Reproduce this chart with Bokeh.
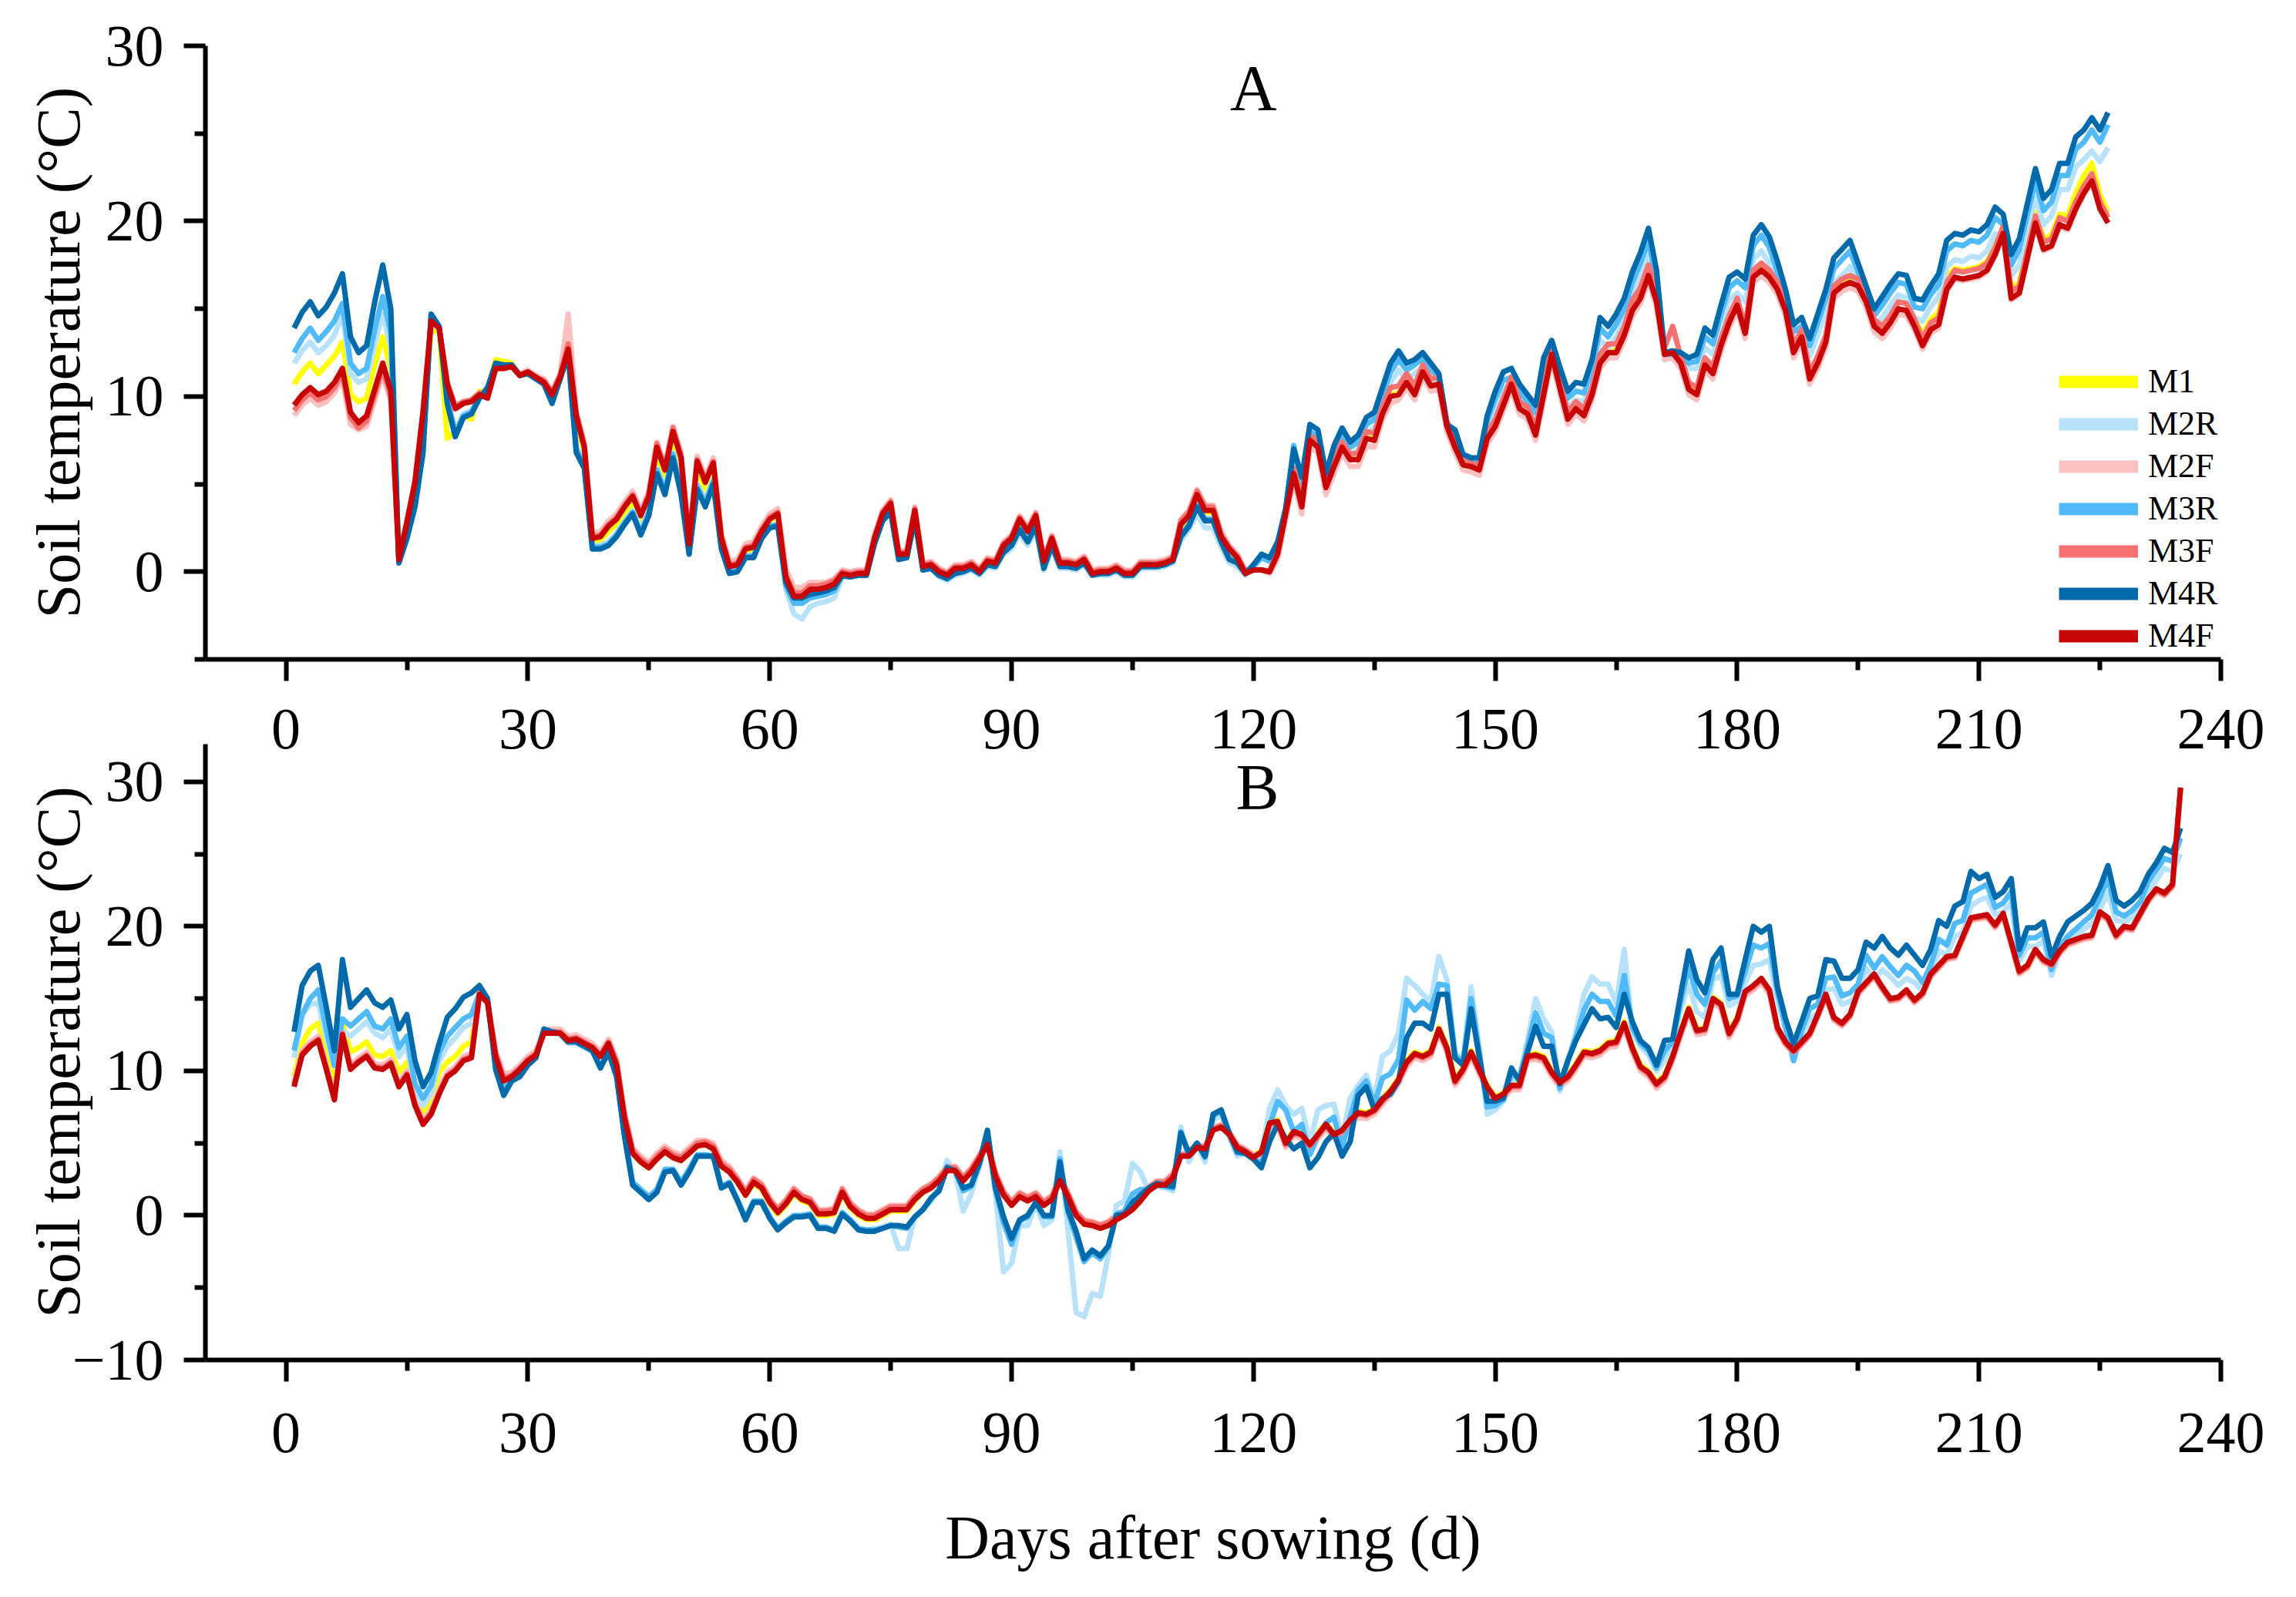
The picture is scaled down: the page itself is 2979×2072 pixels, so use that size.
from bokeh.plotting import figure
from bokeh.models import FixedTicker, Legend, LegendItem, Label
from bokeh.layouts import column
from bokeh.embed import file_html
from bokeh.resources import INLINE

# Panel A: soil temperature, days 1-226
a_m1 = [10.7, 11.4, 11.9, 11.3, 11.8, 12.3, 13.1, 10.1, 9.7, 9.9,
        11.8, 13.4, 11.5, 0.6, 2.4, 4.5, 8.2, 13.8, 13.7, 7.6,
        8.0, 8.9, 8.7, 10.3, 10.3, 12.1, 12.0, 11.9, 11.2, 11.4,
        11.1, 10.8, 10.0, 11.0, 12.6, 8.5, 6.9, 1.7, 1.8, 2.3,
        2.7, 3.4, 3.9, 2.8, 3.9, 6.7, 5.4, 7.6, 6.1, 1.4,
        5.9, 4.7, 5.9, 1.7, 0.2, 0.3, 1.2, 1.3, 2.2, 2.9,
        3.2, -0.4, -1.5, -1.5, -1.1, -1.1, -1.0, -0.8, -0.1, -0.2,
        -0.1, -0.1, 1.8, 3.2, 3.8, 1.0, 1.0, 3.4, 0.3, 0.4,
        0.0, -0.2, 0.2, 0.2, 0.4, 0.0, 0.6, 0.5, 1.4, 1.8,
        2.9, 2.2, 3.1, 0.6, 1.8, 0.5, 0.5, 0.4, 0.7, -0.1,
        0.0, 0.0, 0.2, -0.1, -0.1, 0.4, 0.4, 0.4, 0.5, 0.7,
        2.6, 3.1, 4.2, 3.4, 3.4, 1.9, 1.2, 0.8, -0.1, 0.1,
        0.1, 0.0, 1.0, 3.3, 5.7, 3.8, 7.6, 7.2, 4.9, 6.1,
        7.2, 6.5, 6.5, 7.7, 7.6, 9.1, 10.1, 10.2, 10.9, 10.2,
        11.5, 10.7, 10.8, 8.4, 7.2, 6.0, 5.9, 5.6, 7.6, 8.4,
        9.6, 10.8, 9.4, 9.1, 7.9, 10.2, 12.5, 10.6, 8.8, 9.4,
        9.0, 10.2, 12.0, 12.6, 12.6, 13.6, 15.0, 15.7, 17.0, 15.5,
        12.5, 12.6, 12.0, 10.5, 10.2, 11.9, 11.4, 13.0, 14.3, 15.3,
        13.8, 17.0, 17.4, 17.0, 16.3, 15.1, 12.7, 13.6, 11.3, 12.2,
        13.4, 16.2, 16.6, 16.8, 16.6, 15.7, 14.3, 14.0, 14.6, 15.4,
        15.3, 14.5, 13.5, 14.4, 14.8, 16.8, 17.3, 17.2, 17.3, 17.4,
        17.7, 18.6, 19.7, 16.2, 16.5, 18.5, 20.5, 19.0, 19.2, 20.4,
        20.3, 21.6, 22.6, 23.3, 21.5, 20.5]
a_m2r = [11.9, 12.6, 13.1, 12.5, 12.9, 13.5, 14.7, 11.3, 10.8, 11.0,
         13.0, 14.7, 12.8, 0.6, 2.2, 4.0, 7.5, 14.5, 13.8, 9.9,
         8.1, 9.0, 9.2, 10.0, 10.5, 11.8, 11.8, 11.8, 11.2, 11.3,
         11.0, 10.7, 9.8, 11.0, 12.5, 7.2, 6.1, 1.5, 1.5, 1.7,
         2.2, 2.9, 3.5, 2.4, 3.6, 5.9, 4.7, 6.8, 4.8, 1.2,
         5.0, 4.1, 5.3, 1.5, 0.0, 0.1, 0.9, 0.9, 2.0, 2.6,
         2.7, -1.0, -2.4, -2.7, -2.0, -1.8, -1.7, -1.5, -0.3, -0.3,
         -0.2, -0.2, 1.6, 2.9, 3.4, 0.7, 0.8, 3.0, 0.1, 0.2,
         -0.3, -0.5, -0.2, -0.1, 0.1, -0.2, 0.3, 0.2, 1.0, 1.3,
         2.2, 1.5, 2.4, 0.1, 1.3, 0.2, 0.2, 0.1, 0.4, -0.2,
         -0.2, -0.2, 0.0, -0.3, -0.3, 0.2, 0.2, 0.2, 0.3, 0.5,
         1.8, 2.4, 3.3, 2.5, 2.5, 1.4, 0.5, 0.3, -0.2, 0.3,
         0.8, 0.6, 1.4, 3.3, 6.5, 4.8, 7.6, 7.3, 5.0, 6.4,
         7.3, 6.6, 7.0, 7.9, 8.2, 9.5, 10.8, 11.5, 11.0, 11.3,
         11.7, 11.1, 10.6, 8.1, 7.6, 6.3, 6.2, 6.1, 8.2, 9.4,
         10.4, 10.6, 9.8, 9.3, 8.7, 11.2, 12.3, 10.7, 9.4, 9.8,
         9.7, 11.0, 13.2, 12.8, 13.4, 14.3, 15.8, 16.8, 18.1, 16.0,
         12.2, 12.2, 12.0, 11.6, 11.6, 12.8, 12.4, 14.0, 15.5, 15.9,
         15.4, 17.8, 18.3, 17.6, 16.3, 14.9, 13.1, 13.4, 12.3, 13.5,
         14.9, 16.5, 16.9, 17.4, 16.3, 15.1, 14.0, 14.5, 15.2, 15.8,
         15.6, 14.5, 14.3, 15.1, 15.7, 17.4, 17.8, 17.7, 18.0, 17.9,
         18.3, 19.3, 19.0, 16.9, 17.5, 19.5, 21.4, 19.8, 20.3, 21.8,
         21.8, 23.1, 23.5, 24.0, 23.4, 24.2]
a_m2f = [8.9, 9.5, 9.9, 9.5, 9.7, 10.2, 11.0, 8.4, 8.1, 8.3,
         9.8, 11.3, 9.7, 0.8, 2.9, 5.2, 9.2, 14.2, 13.9, 10.8,
         9.5, 9.7, 9.8, 10.2, 10.0, 11.6, 11.7, 11.8, 11.3, 11.5,
         11.2, 11.0, 10.3, 11.3, 14.7, 9.2, 7.4, 2.2, 2.3, 2.9,
         3.3, 4.0, 4.6, 3.5, 4.6, 7.4, 6.1, 8.3, 6.8, 1.9,
         6.6, 5.4, 6.5, 2.2, 0.6, 0.7, 1.6, 1.7, 2.6, 3.3,
         3.6, 0.2, -0.9, -0.9, -0.6, -0.6, -0.6, -0.4, 0.1, 0.0,
         0.1, 0.1, 2.1, 3.5, 4.1, 1.2, 1.2, 3.7, 0.5, 0.6,
         0.2, 0.0, 0.4, 0.4, 0.6, 0.2, 0.8, 0.7, 1.7, 2.1,
         3.2, 2.5, 3.4, 0.8, 2.1, 0.7, 0.7, 0.6, 0.9, 0.1,
         0.2, 0.2, 0.4, 0.1, 0.1, 0.6, 0.6, 0.6, 0.7, 0.9,
         3.0, 3.5, 4.7, 3.8, 3.8, 2.3, 1.5, 1.0, 0.1, 0.2,
         0.1, -0.1, 0.7, 3.0, 5.2, 3.3, 7.1, 6.8, 4.4, 5.6,
         6.8, 6.0, 6.0, 7.2, 7.1, 8.7, 9.6, 9.8, 10.5, 9.8,
         11.1, 10.3, 10.4, 8.0, 6.8, 5.8, 5.7, 5.5, 7.3, 8.0,
         9.2, 10.4, 9.0, 8.7, 7.5, 9.8, 12.1, 10.2, 8.4, 9.0,
         8.6, 9.8, 11.6, 12.2, 12.2, 13.2, 14.6, 15.3, 16.6, 15.1,
         12.1, 12.2, 11.6, 10.1, 9.8, 11.5, 11.0, 12.6, 13.9, 14.9,
         13.3, 16.5, 16.9, 16.5, 15.8, 14.6, 12.2, 13.1, 10.7, 11.6,
         12.8, 15.6, 16.0, 16.2, 16.0, 15.1, 13.7, 13.3, 13.9, 14.7,
         14.6, 13.8, 12.7, 13.6, 13.9, 16.0, 16.7, 16.6, 16.7, 16.8,
         17.1, 18.0, 19.2, 15.5, 15.8, 17.8, 19.8, 18.3, 18.5, 19.7,
         19.5, 20.6, 21.5, 22.2, 21.0, 20.4]
a_m3r = [12.5, 13.3, 13.9, 13.2, 13.7, 14.3, 15.3, 11.9, 11.3, 11.6,
         13.8, 15.7, 13.6, 0.6, 2.1, 3.9, 7.3, 14.6, 13.9, 9.8,
         7.9, 8.9, 9.1, 9.9, 10.5, 11.8, 11.8, 11.8, 11.2, 11.3,
         11.0, 10.7, 9.7, 11.0, 12.4, 7.0, 6.0, 1.4, 1.4, 1.6,
         2.1, 2.8, 3.4, 2.2, 3.4, 5.8, 4.6, 6.7, 4.6, 1.1,
         4.9, 3.9, 5.2, 1.4, 0.0, 0.1, 0.9, 0.9, 2.0, 2.6,
         2.7, -0.8, -1.8, -1.8, -1.5, -1.4, -1.3, -1.1, -0.2, -0.3,
         -0.2, -0.2, 1.7, 3.0, 3.5, 0.8, 0.8, 3.1, 0.1, 0.2,
         -0.2, -0.3, 0.0, 0.1, 0.3, 0.0, 0.4, 0.4, 1.2, 1.6,
         2.5, 1.8, 2.7, 0.3, 1.6, 0.4, 0.4, 0.3, 0.6, -0.1,
         -0.1, -0.1, 0.1, -0.2, -0.2, 0.3, 0.3, 0.3, 0.4, 0.6,
         2.1, 2.7, 3.8, 3.0, 3.0, 1.7, 0.8, 0.5, -0.1, 0.3,
         0.8, 0.6, 1.5, 3.6, 7.2, 5.0, 8.0, 7.7, 5.4, 6.8,
         7.8, 7.1, 7.4, 8.4, 8.7, 10.1, 11.4, 12.1, 11.5, 11.8,
         12.2, 11.6, 11.0, 8.3, 7.9, 6.6, 6.4, 6.3, 8.6, 9.9,
         10.9, 11.1, 10.3, 9.7, 9.1, 11.8, 12.9, 11.3, 9.9, 10.3,
         10.2, 11.6, 13.9, 13.4, 14.1, 15.0, 16.5, 17.6, 18.9, 16.6,
         12.4, 12.4, 12.3, 11.9, 12.0, 13.4, 13.0, 14.7, 16.2, 16.6,
         16.2, 18.6, 19.2, 18.5, 17.1, 15.6, 13.7, 14.0, 12.9, 14.2,
         15.6, 17.3, 17.8, 18.3, 17.1, 15.8, 14.6, 15.2, 15.9, 16.5,
         16.4, 15.1, 15.0, 15.8, 16.4, 18.3, 18.7, 18.6, 18.9, 18.8,
         19.2, 20.2, 19.8, 17.5, 18.4, 20.4, 22.3, 20.6, 21.1, 22.6,
         22.6, 24.1, 24.5, 25.2, 24.5, 25.5]
a_m3f = [9.2, 9.8, 10.2, 9.8, 10.0, 10.5, 11.3, 8.8, 8.2, 8.6,
         10.1, 11.6, 10.0, 0.8, 2.9, 5.2, 9.2, 14.3, 13.9, 10.8,
         9.4, 9.7, 9.8, 10.2, 10.0, 11.6, 11.6, 11.7, 11.2, 11.4,
         11.1, 10.9, 10.2, 11.2, 13.0, 9.0, 7.2, 2.0, 2.1, 2.7,
         3.1, 3.8, 4.4, 3.3, 4.4, 7.3, 5.9, 8.2, 6.6, 1.7,
         6.4, 5.2, 6.3, 2.0, 0.4, 0.5, 1.4, 1.5, 2.4, 3.1,
         3.4, -0.2, -1.2, -1.2, -0.8, -0.8, -0.7, -0.5, 0.0, -0.1,
         0.0, 0.0, 2.0, 3.4, 4.0, 1.1, 1.1, 3.6, 0.4, 0.5,
         0.1, -0.1, 0.3, 0.3, 0.5, 0.1, 0.7, 0.6, 1.6, 2.0,
         3.1, 2.4, 3.3, 0.7, 2.0, 0.6, 0.6, 0.5, 0.8, 0.0,
         0.1, 0.1, 0.3, 0.0, 0.0, 0.5, 0.5, 0.5, 0.6, 0.8,
         2.9, 3.4, 4.6, 3.7, 3.7, 2.1, 1.4, 0.9, 0.0, 0.1,
         0.1, 0.0, 1.1, 3.5, 5.9, 4.0, 7.8, 7.4, 5.1, 6.3,
         7.4, 6.7, 6.8, 8.0, 7.9, 9.4, 10.5, 10.6, 11.3, 10.6,
         11.8, 11.0, 11.1, 8.6, 7.4, 6.3, 6.2, 6.0, 7.9, 8.7,
         9.9, 11.1, 9.7, 9.4, 8.2, 10.5, 12.8, 10.9, 9.1, 9.7,
         9.3, 10.5, 12.4, 13.0, 13.0, 14.0, 15.5, 16.2, 17.5, 16.0,
         12.8, 14.0, 12.3, 10.8, 10.5, 12.2, 11.7, 13.3, 14.6, 15.6,
         14.0, 17.2, 17.6, 17.2, 16.5, 15.3, 12.9, 13.8, 11.4, 12.3,
         13.5, 16.3, 16.7, 16.9, 16.7, 15.8, 14.4, 14.0, 14.6, 15.4,
         15.3, 14.4, 13.3, 14.2, 14.5, 16.5, 17.2, 17.1, 17.2, 17.3,
         17.6, 18.5, 19.7, 16.0, 16.3, 18.3, 20.3, 18.8, 19.0, 20.2,
         20.0, 21.1, 22.0, 22.7, 21.1, 20.2]
a_m4r = [13.9, 14.8, 15.4, 14.6, 15.1, 15.9, 17.0, 13.4, 12.5, 12.9,
         15.4, 17.5, 15.0, 0.5, 1.9, 3.7, 6.8, 14.7, 14.0, 9.6,
         7.7, 8.8, 9.0, 9.9, 10.5, 11.9, 11.8, 11.8, 11.2, 11.3,
         11.0, 10.7, 9.6, 11.0, 12.4, 6.8, 5.9, 1.3, 1.3, 1.5,
         2.0, 2.7, 3.3, 2.1, 3.2, 5.6, 4.4, 6.5, 4.4, 1.0,
         4.7, 3.7, 5.0, 1.3, -0.1, 0.0, 0.8, 0.8, 1.9, 2.5,
         2.6, -0.6, -1.5, -1.5, -1.3, -1.2, -1.1, -0.9, -0.2, -0.3,
         -0.2, -0.2, 1.6, 2.9, 3.4, 0.7, 0.8, 3.0, 0.1, 0.2,
         -0.2, -0.4, -0.1, 0.0, 0.2, -0.1, 0.4, 0.3, 1.1, 1.5,
         2.4, 1.7, 2.6, 0.2, 1.5, 0.3, 0.3, 0.2, 0.5, -0.2,
         -0.1, -0.1, 0.1, -0.2, -0.2, 0.3, 0.3, 0.3, 0.4, 0.6,
         2.0, 2.6, 3.7, 2.9, 2.9, 1.7, 0.7, 0.5, -0.1, 0.4,
         1.0, 0.8, 1.7, 3.6, 7.0, 5.4, 8.4, 8.1, 5.6, 7.2,
         8.2, 7.4, 7.8, 8.8, 9.1, 10.5, 11.9, 12.6, 11.9, 12.1,
         12.5, 11.9, 11.3, 8.4, 8.1, 6.7, 6.5, 6.5, 8.9, 10.3,
         11.4, 11.6, 10.7, 10.1, 9.5, 12.2, 13.2, 11.7, 10.3, 10.8,
         10.7, 12.1, 14.5, 14.0, 14.7, 15.6, 17.1, 18.2, 19.6, 17.2,
         12.5, 12.6, 12.5, 12.2, 12.4, 13.9, 13.5, 15.2, 16.8, 17.1,
         16.7, 19.2, 19.8, 19.1, 17.7, 16.1, 14.1, 14.5, 13.3, 14.7,
         16.1, 17.9, 18.4, 18.9, 17.6, 16.3, 15.0, 15.7, 16.4, 17.0,
         16.9, 15.6, 15.5, 16.3, 17.0, 18.9, 19.3, 19.2, 19.5, 19.4,
         19.8, 20.8, 20.4, 18.1, 19.0, 21.0, 23.0, 21.3, 21.8, 23.3,
         23.3, 24.8, 25.2, 25.9, 25.2, 26.2]
a_m4f = [9.5, 10.1, 10.5, 10.1, 10.3, 10.8, 11.6, 9.1, 8.5, 8.9,
         10.4, 11.9, 10.3, 0.7, 2.8, 5.1, 9.1, 14.3, 13.9, 10.7,
         9.3, 9.6, 9.7, 10.1, 9.9, 11.6, 11.6, 11.7, 11.2, 11.4,
         11.1, 10.8, 10.1, 11.1, 12.7, 8.9, 7.1, 1.9, 2.0, 2.6,
         3.0, 3.7, 4.3, 3.2, 4.3, 7.1, 5.8, 8.0, 6.5, 1.6,
         6.3, 5.1, 6.2, 1.9, 0.3, 0.4, 1.3, 1.4, 2.3, 3.0,
         3.3, -0.3, -1.4, -1.4, -1.0, -1.0, -0.9, -0.7, -0.1, -0.2,
         -0.1, -0.1, 1.9, 3.3, 3.9, 1.0, 1.0, 3.5, 0.3, 0.4,
         0.0, -0.2, 0.2, 0.2, 0.4, 0.0, 0.6, 0.5, 1.5, 1.9,
         3.0, 2.3, 3.2, 0.6, 1.9, 0.5, 0.5, 0.4, 0.7, -0.1,
         0.0, 0.0, 0.2, -0.1, -0.1, 0.4, 0.4, 0.4, 0.5, 0.7,
         2.7, 3.2, 4.4, 3.5, 3.5, 2.0, 1.3, 0.8, -0.1, 0.1,
         0.1, 0.0, 1.0, 3.3, 5.6, 3.7, 7.5, 7.1, 4.8, 6.0,
         7.1, 6.4, 6.4, 7.6, 7.5, 9.0, 10.0, 10.1, 10.8, 10.1,
         11.4, 10.6, 10.7, 8.3, 7.1, 6.1, 6.0, 5.8, 7.6, 8.3,
         9.5, 10.7, 9.3, 9.0, 7.8, 10.1, 12.4, 10.5, 8.7, 9.3,
         8.9, 10.1, 11.9, 12.5, 12.5, 13.5, 14.9, 15.6, 16.9, 15.4,
         12.4, 12.5, 11.9, 10.4, 10.1, 11.8, 11.3, 12.9, 14.2, 15.2,
         13.6, 16.8, 17.2, 16.8, 16.1, 14.9, 12.5, 13.4, 11.0, 11.9,
         13.1, 15.9, 16.3, 16.5, 16.3, 15.4, 14.0, 13.6, 14.2, 15.0,
         14.9, 14.0, 12.9, 13.8, 14.1, 16.1, 16.8, 16.7, 16.8, 16.9,
         17.2, 18.1, 19.3, 15.6, 15.9, 17.9, 19.9, 18.4, 18.6, 19.8,
         19.6, 20.7, 21.6, 22.3, 20.7, 19.9]

# Panel B: soil temperature, days 1-235
b_m1 = [9.6, 11.9, 12.9, 13.3, 11.3, 9.3, 13.3, 11.3, 11.6, 12.0,
        11.1, 11.0, 11.4, 9.9, 10.6, 8.1, 7.0, 7.9, 9.9, 10.6,
        11.0, 11.7, 12.0, 15.3, 14.7, 11.1, 9.5, 9.7, 10.2, 10.8,
        11.2, 12.7, 12.7, 12.7, 12.2, 12.3, 12.0, 11.7, 11.1, 12.0,
        10.5, 6.8, 4.3, 3.7, 3.3, 3.9, 4.4, 4.0, 3.8, 4.3,
        4.8, 4.9, 4.6, 3.4, 3.0, 2.3, 1.4, 2.2, 1.8, 0.8,
        0.1, 0.7, 1.5, 1.0, 0.8, 0.0, 0.0, 0.1, 1.5, 0.5,
        0.0, -0.3, -0.3, 0.0, 0.3, 0.3, 0.3, 1.0, 1.6, 1.9,
        2.5, 3.2, 3.2, 2.5, 3.1, 4.0, 5.0, 2.8, 1.5, 0.8,
        1.4, 1.1, 1.4, 0.8, 1.2, 2.5, 1.4, 0.1, -0.5, -0.6,
        -0.8, -0.6, -0.2, 0.1, 0.5, 1.1, 1.8, 2.2, 2.2, 2.7,
        4.2, 4.2, 4.8, 4.7, 6.0, 6.2, 5.7, 4.8, 4.5, 4.1,
        4.5, 6.5, 6.6, 5.1, 5.9, 5.7, 5.0, 5.7, 6.4, 5.7,
        6.0, 6.7, 7.2, 7.1, 7.4, 8.1, 8.7, 9.5, 10.7, 11.3,
        11.1, 11.4, 13.0, 11.7, 9.4, 10.2, 11.4, 10.2, 9.0, 8.2,
        8.5, 9.1, 9.1, 11.1, 11.2, 11.0, 10.0, 9.3, 9.7, 10.5,
        11.4, 11.3, 11.5, 12.0, 12.1, 13.4, 11.7, 10.4, 10.0, 9.2,
        9.7, 11.1, 12.8, 14.4, 12.9, 13.0, 15.1, 14.7, 12.7, 13.7,
        15.4, 15.8, 16.3, 15.5, 12.9, 11.9, 11.3, 11.9, 12.5, 13.8,
        15.2, 13.6, 13.2, 13.8, 15.4, 16.0, 16.6, 15.7, 14.9, 15.0,
        15.5, 14.8, 15.3, 16.6, 17.2, 17.8, 17.9, 19.2, 20.5, 20.6,
        20.7, 20.0, 20.8, 18.8, 16.7, 17.1, 18.2, 17.5, 17.2, 18.1,
        18.7, 18.9, 19.1, 19.2, 20.9, 20.5, 19.3, 19.9, 19.8, 20.8,
        21.8, 22.5, 22.2, 22.8, 29.5]
b_m2r = [10.9, 13.9, 14.6, 14.7, 12.3, 10.3, 12.8, 12.4, 12.9, 13.4,
         12.6, 12.3, 12.9, 11.0, 11.7, 8.6, 7.6, 8.4, 10.7, 11.7,
         12.3, 13.0, 13.3, 15.4, 14.7, 10.6, 8.8, 9.5, 9.9, 10.5,
         11.0, 12.7, 12.6, 12.5, 11.9, 11.9, 11.6, 11.3, 10.2, 11.3,
         9.7, 5.5, 2.2, 1.7, 1.2, 1.7, 3.1, 3.1, 2.2, 3.1,
         4.1, 4.1, 4.0, 1.9, 2.2, 1.1, -0.2, 0.9, 0.9, -0.1,
         -0.9, -0.5, -0.1, -0.1, 0.0, -0.8, -0.9, -1.0, 0.1, -0.4,
         -1.0, -1.0, -0.9, -0.8, -0.6, -2.3, -2.3, -0.1, 0.4, 1.0,
         2.0, 3.8, 3.0, 0.3, 1.5, 3.4, 5.3, 1.5, -3.9, -3.3,
         -0.7, -0.7, 0.8, -0.7, -0.3, 4.4, -1.0, -6.7, -7.0, -5.4,
         -5.6, -2.7, 0.7, 1.0, 3.6, 3.0, 1.7, 2.0, 1.9, 1.7,
         6.1, 3.7, 4.9, 3.7, 6.6, 6.9, 5.4, 4.1, 4.3, 3.9,
         4.4, 7.4, 8.7, 7.6, 7.0, 7.4, 5.1, 7.3, 7.6, 7.7,
         5.3, 8.1, 9.0, 9.7, 8.0, 11.0, 11.4, 12.6, 16.4, 15.9,
         15.3, 14.8, 17.9, 16.3, 11.3, 10.7, 15.8, 11.6, 7.0, 7.3,
         7.9, 9.3, 9.6, 12.1, 15.0, 13.6, 12.7, 8.6, 10.7, 12.7,
         15.3, 16.5, 16.0, 16.0, 14.7, 18.4, 12.7, 11.7, 11.1, 10.0,
         10.7, 11.9, 14.3, 16.0, 14.1, 13.7, 16.3, 16.6, 14.5, 14.8,
         16.1, 17.3, 17.4, 17.7, 14.9, 12.8, 11.2, 12.4, 13.6, 14.0,
         15.6, 15.7, 14.6, 14.8, 15.3, 17.1, 16.3, 17.0, 16.5, 15.9,
         16.4, 16.1, 15.5, 16.6, 18.3, 18.0, 19.3, 19.6, 21.4, 21.8,
         22.0, 20.8, 21.0, 21.6, 17.6, 18.6, 18.6, 19.0, 16.6, 18.2,
         18.9, 19.4, 19.8, 20.2, 21.2, 22.3, 20.4, 20.3, 20.6, 21.2,
         22.4, 23.2, 24.0, 23.8, 25.0]
b_m2f = [9.2, 11.4, 12.0, 12.4, 10.4, 8.3, 12.7, 10.4, 10.9, 11.3,
         10.5, 10.4, 10.8, 9.2, 10.0, 7.9, 6.6, 7.3, 8.7, 9.9,
         10.3, 11.0, 11.2, 15.5, 14.9, 11.4, 9.8, 9.9, 10.4, 11.0,
         11.4, 12.8, 12.9, 12.9, 12.4, 12.5, 12.2, 11.9, 11.3, 12.2,
         10.8, 7.1, 4.7, 4.1, 3.7, 4.3, 4.8, 4.4, 4.2, 4.7,
         5.2, 5.2, 5.0, 3.8, 3.4, 2.6, 1.7, 2.6, 2.2, 1.2,
         0.5, 1.1, 1.9, 1.4, 1.2, 0.4, 0.4, 0.5, 1.9, 0.9,
         0.4, 0.1, 0.1, 0.4, 0.7, 0.7, 0.7, 1.4, 1.9, 2.2,
         2.7, 3.4, 3.4, 2.7, 3.3, 4.2, 5.1, 3.0, 1.7, 1.0,
         1.6, 1.3, 1.6, 1.0, 1.4, 2.7, 1.6, 0.3, -0.3, -0.4,
         -0.6, -0.4, 0.0, 0.3, 0.7, 1.3, 2.0, 2.4, 2.4, 2.9,
         4.3, 4.3, 4.9, 4.8, 6.1, 6.3, 5.8, 4.9, 4.6, 4.2,
         4.1, 6.1, 6.2, 4.7, 5.5, 5.3, 4.6, 5.3, 6.0, 5.3,
         5.6, 6.3, 6.8, 6.7, 7.0, 7.7, 8.3, 9.1, 10.3, 10.9,
         10.7, 11.0, 12.6, 11.3, 9.0, 9.8, 11.0, 9.8, 8.6, 7.8,
         8.1, 8.7, 8.7, 10.7, 10.8, 10.6, 9.6, 8.9, 9.3, 10.1,
         11.0, 10.9, 11.1, 11.6, 11.7, 13.0, 11.3, 10.0, 9.6, 8.8,
         9.3, 10.7, 12.4, 14.0, 12.5, 12.6, 14.7, 14.3, 12.3, 13.3,
         15.2, 15.6, 16.1, 15.3, 12.7, 11.8, 11.2, 11.8, 12.4, 13.7,
         15.1, 13.5, 13.1, 13.7, 15.3, 15.9, 16.5, 15.6, 14.8, 14.9,
         15.4, 14.7, 15.2, 16.5, 17.1, 17.7, 17.8, 19.1, 20.4, 20.5,
         20.6, 19.9, 20.7, 18.7, 16.7, 17.1, 18.2, 17.5, 17.2, 18.1,
         18.7, 18.9, 19.1, 19.2, 20.8, 20.4, 19.2, 19.8, 19.7, 20.7,
         21.7, 22.4, 22.1, 22.7, 29.4]
b_m3r = [11.4, 13.9, 15.0, 15.6, 12.9, 10.4, 13.6, 13.1, 13.6, 14.1,
         13.1, 12.9, 13.6, 11.6, 12.4, 9.1, 8.1, 9.0, 11.3, 12.4,
         13.0, 13.6, 13.9, 15.4, 14.8, 10.4, 8.6, 9.4, 9.8, 10.5,
         11.0, 12.8, 12.7, 12.6, 12.0, 12.0, 11.7, 11.4, 10.3, 11.4,
         9.8, 5.6, 2.3, 1.8, 1.3, 1.8, 3.2, 3.2, 2.3, 3.2,
         4.2, 4.2, 4.1, 2.0, 2.3, 1.1, -0.2, 1.0, 1.0, -0.1,
         -0.9, -0.4, 0.0, 0.0, 0.1, -0.8, -0.8, -1.0, 0.2, -0.3,
         -0.9, -1.0, -1.0, -0.9, -0.7, -0.8, -0.9, -0.1, 0.4, 1.1,
         1.8, 3.4, 3.1, 1.7, 2.0, 3.5, 5.7, 1.8, -0.5, -2.0,
         -0.4, -0.1, 0.9, -0.1, -0.1, 3.9, 0.2, -1.5, -3.2, -2.6,
         -3.0, -2.2, 0.1, 0.3, 1.5, 1.8, 1.8, 2.1, 2.0, 1.9,
         5.8, 4.1, 5.0, 4.0, 6.9, 7.2, 5.6, 4.3, 4.3, 3.9,
         3.6, 6.2, 7.9, 7.3, 5.8, 6.3, 4.2, 5.5, 6.4, 6.8,
         4.7, 6.8, 8.7, 9.3, 7.7, 9.5, 9.8, 10.8, 14.9, 14.2,
         14.8, 14.3, 16.0, 15.9, 11.1, 10.6, 15.0, 11.3, 7.5, 7.6,
         8.0, 9.8, 9.5, 11.7, 14.0, 12.6, 12.3, 8.8, 10.7, 12.3,
         14.2, 15.3, 14.8, 14.8, 13.8, 16.6, 13.0, 11.9, 11.4, 10.2,
         11.4, 12.0, 14.8, 17.2, 15.3, 14.6, 16.8, 17.6, 15.0, 15.2,
         16.9, 18.7, 18.5, 18.8, 15.5, 13.1, 10.7, 12.8, 14.3, 14.6,
         16.4, 16.5, 15.2, 15.4, 16.0, 18.0, 17.1, 17.9, 17.2, 16.6,
         17.3, 16.9, 16.1, 17.3, 19.1, 18.7, 20.2, 20.4, 22.3, 22.6,
         22.9, 21.3, 21.6, 22.4, 18.0, 19.2, 19.2, 19.6, 17.0, 18.6,
         19.3, 19.8, 20.3, 20.8, 22.0, 23.3, 21.0, 20.7, 21.1, 21.7,
         23.1, 23.9, 24.7, 24.5, 26.1]
b_m3f = [9.0, 11.2, 11.8, 12.2, 10.2, 8.1, 12.6, 10.2, 10.7, 11.1,
         10.3, 10.2, 10.6, 9.0, 9.8, 7.7, 6.4, 7.1, 8.5, 9.7,
         10.1, 10.8, 11.0, 15.4, 14.8, 11.2, 9.5, 9.7, 10.2, 10.8,
         11.2, 12.7, 12.7, 12.7, 12.2, 12.3, 12.0, 11.7, 11.1, 12.0,
         10.6, 6.9, 4.5, 3.9, 3.5, 4.1, 4.6, 4.2, 4.0, 4.5,
         5.0, 5.1, 4.8, 3.6, 3.2, 2.5, 1.6, 2.5, 2.1, 1.1,
         0.4, 1.0, 1.8, 1.3, 1.1, 0.3, 0.3, 0.4, 1.8, 0.8,
         0.3, 0.0, 0.0, 0.3, 0.6, 0.6, 0.6, 1.3, 1.8, 2.1,
         2.6, 3.3, 3.3, 2.6, 3.2, 4.1, 5.0, 2.9, 1.6, 0.9,
         1.5, 1.2, 1.5, 0.9, 1.3, 2.6, 1.5, 0.2, -0.4, -0.5,
         -0.7, -0.5, -0.1, 0.2, 0.6, 1.2, 1.9, 2.3, 2.3, 2.8,
         4.2, 4.2, 4.8, 4.7, 6.0, 6.2, 5.7, 4.8, 4.5, 4.1,
         4.3, 6.3, 6.4, 4.9, 5.7, 5.5, 4.8, 5.5, 6.2, 5.5,
         5.8, 6.5, 7.0, 6.9, 7.2, 7.9, 8.5, 9.3, 10.5, 11.1,
         10.9, 11.2, 12.8, 11.5, 9.2, 10.0, 11.2, 10.0, 8.8, 8.0,
         8.3, 8.9, 8.9, 10.9, 11.0, 10.8, 9.8, 9.1, 9.5, 10.3,
         11.2, 11.1, 11.3, 11.8, 11.9, 13.2, 11.5, 10.2, 9.8, 9.0,
         9.5, 10.9, 12.6, 14.2, 12.7, 12.8, 14.9, 14.5, 12.5, 13.5,
         15.4, 15.8, 16.3, 15.5, 12.9, 11.9, 11.3, 11.9, 12.5, 13.8,
         15.2, 13.6, 13.2, 13.8, 15.4, 16.0, 16.6, 15.7, 14.9, 15.0,
         15.5, 14.8, 15.3, 16.6, 17.2, 17.8, 17.9, 19.2, 20.5, 20.6,
         20.7, 20.0, 20.8, 18.8, 16.8, 17.2, 18.3, 17.6, 17.3, 18.2,
         18.8, 19.0, 19.2, 19.3, 20.9, 20.5, 19.3, 19.9, 19.8, 20.8,
         21.8, 22.5, 22.2, 22.8, 29.5]
b_m4r = [12.7, 15.9, 16.9, 17.3, 14.4, 11.4, 17.7, 14.4, 15.0, 15.6,
         14.7, 14.4, 14.9, 12.9, 13.9, 10.7, 8.9, 9.9, 11.9, 13.7,
         14.3, 15.1, 15.4, 15.9, 15.0, 10.1, 8.3, 9.3, 9.6, 10.4,
         10.9, 12.9, 12.7, 12.6, 12.0, 12.0, 11.7, 11.4, 10.2, 11.3,
         9.6, 5.4, 2.1, 1.6, 1.1, 1.6, 3.0, 3.1, 2.1, 3.0,
         4.1, 4.1, 4.1, 1.9, 2.2, 1.0, -0.3, 0.9, 0.9, -0.2,
         -1.0, -0.5, -0.1, -0.1, 0.0, -0.9, -0.9, -1.1, 0.1, -0.4,
         -1.0, -1.1, -1.1, -0.9, -0.7, -0.7, -0.8, -0.1, 0.4, 1.2,
         1.7, 3.3, 3.1, 1.9, 2.1, 3.6, 5.9, 1.9, -0.1, -1.6,
         -0.3, 0.0, 0.9, 0.0, 0.0, 3.7, 0.4, -1.1, -3.0, -2.4,
         -2.8, -2.1, 0.0, 0.1, 0.9, 1.4, 1.9, 2.2, 2.1, 2.0,
         5.7, 4.3, 5.0, 4.1, 7.0, 7.3, 5.7, 4.4, 4.3, 3.9,
         3.3, 5.1, 6.3, 5.3, 4.6, 5.0, 3.3, 4.0, 5.1, 5.7,
         4.1, 5.1, 8.3, 8.9, 7.3, 8.1, 8.4, 9.3, 12.3, 13.3,
         13.3, 12.9, 15.3, 15.3, 10.9, 10.4, 14.3, 11.0, 7.9, 7.9,
         8.1, 10.2, 9.3, 11.3, 13.1, 11.7, 11.7, 9.1, 10.7, 12.1,
         13.2, 14.3, 13.6, 13.7, 13.0, 15.3, 13.4, 12.1, 11.6, 10.4,
         12.1, 12.2, 15.3, 18.3, 16.3, 15.4, 17.7, 18.5, 15.3, 15.3,
         17.7, 20.0, 19.6, 20.0, 15.8, 13.6, 11.9, 13.4, 15.0, 15.2,
         17.7, 17.6, 16.4, 16.4, 17.0, 18.9, 18.5, 19.3, 18.5, 18.0,
         18.7, 18.0, 17.3, 18.4, 20.4, 20.0, 21.4, 21.7, 23.8, 23.3,
         23.6, 22.0, 22.4, 23.3, 18.4, 19.9, 19.9, 20.3, 17.9, 19.3,
         20.3, 20.7, 21.1, 21.6, 22.7, 24.2, 21.8, 21.4, 21.8, 22.4,
         23.6, 24.4, 25.4, 25.1, 26.8]
b_m4f = [8.9, 11.1, 11.7, 12.1, 10.1, 8.0, 12.5, 10.1, 10.6, 11.0,
         10.2, 10.1, 10.5, 8.9, 9.7, 7.6, 6.3, 7.0, 8.4, 9.6,
         10.0, 10.7, 10.9, 15.3, 14.7, 11.0, 9.3, 9.6, 10.1, 10.7,
         11.1, 12.6, 12.6, 12.6, 12.1, 12.2, 11.9, 11.6, 11.0, 11.9,
         10.4, 6.7, 4.3, 3.7, 3.3, 3.9, 4.4, 4.0, 3.8, 4.3,
         4.8, 4.9, 4.6, 3.4, 3.0, 2.3, 1.4, 2.3, 1.9, 0.9,
         0.2, 0.8, 1.6, 1.1, 0.9, 0.1, 0.1, 0.2, 1.6, 0.6,
         0.1, -0.2, -0.2, 0.1, 0.4, 0.4, 0.4, 1.1, 1.6, 1.9,
         2.4, 3.1, 3.1, 2.4, 3.0, 3.9, 4.9, 2.7, 1.4, 0.7,
         1.3, 1.0, 1.3, 0.7, 1.1, 2.4, 1.3, 0.0, -0.6, -0.7,
         -0.9, -0.7, -0.3, 0.0, 0.4, 1.0, 1.7, 2.1, 2.1, 2.6,
         4.1, 4.1, 4.7, 4.6, 5.9, 6.1, 5.6, 4.7, 4.4, 4.0,
         4.4, 6.4, 6.5, 5.0, 5.8, 5.6, 4.9, 5.6, 6.3, 5.6,
         5.9, 6.6, 7.1, 7.0, 7.3, 8.0, 8.6, 9.4, 10.6, 11.2,
         11.0, 11.3, 12.9, 11.6, 9.3, 10.1, 11.3, 10.1, 8.9, 8.1,
         8.4, 9.0, 9.0, 11.0, 11.1, 10.9, 9.9, 9.2, 9.6, 10.4,
         11.3, 11.2, 11.4, 11.9, 12.0, 13.3, 11.6, 10.3, 9.9, 9.1,
         9.6, 11.0, 12.7, 14.3, 12.8, 12.9, 15.0, 14.6, 12.6, 13.6,
         15.5, 15.9, 16.4, 15.6, 13.0, 12.0, 11.4, 12.0, 12.6, 13.9,
         15.3, 13.7, 13.3, 13.9, 15.5, 16.1, 16.7, 15.8, 15.0, 15.1,
         15.6, 14.9, 15.4, 16.7, 17.3, 17.9, 18.0, 19.3, 20.6, 20.7,
         20.8, 20.1, 20.9, 18.9, 16.9, 17.3, 18.4, 17.7, 17.4, 18.3,
         18.9, 19.1, 19.3, 19.4, 21.0, 20.6, 19.4, 20.0, 19.9, 20.9,
         21.9, 22.6, 22.3, 22.9, 29.6]

treatments = ["M1", "M2R", "M2F", "M3R", "M3F", "M4R", "M4F"]
colors = ["#FFFF00", "#B7E2FA", "#FBC0C0", "#50BBF8", "#F87171", "#006AAB", "#C80505"]
x_ticks = [0, 30, 60, 90, 120, 150, 180, 210, 240]
x_minor = [15, 45, 75, 105, 135, 165, 195, 225]

FONT = "Liberation Serif"


def style_axes(p, yticks, yminor):
    p.xaxis.ticker = FixedTicker(ticks=x_ticks, minor_ticks=x_minor)
    p.yaxis.ticker = FixedTicker(ticks=yticks, minor_ticks=yminor)
    for ax in p.xaxis + p.yaxis:
        ax.axis_line_width = 6
        ax.axis_line_color = "black"
        ax.major_tick_line_width = 6
        ax.minor_tick_line_width = 6
        ax.major_tick_line_color = "black"
        ax.minor_tick_line_color = "black"
        ax.major_tick_in = 0
        ax.major_tick_out = 28
        ax.minor_tick_in = 0
        ax.minor_tick_out = 14
        ax.major_label_text_font = FONT
        ax.major_label_text_font_size = "76px"
        ax.major_label_text_color = "black"
        ax.axis_label_text_font = FONT
        ax.axis_label_text_font_size = "80px"
        ax.axis_label_text_font_style = "normal"
        ax.axis_label_text_color = "black"
    p.xaxis.major_label_standoff = 37
    p.yaxis.major_label_standoff = 26
    p.xgrid.visible = False
    p.ygrid.visible = False
    p.outline_line_color = None


def draw(p, days, series):
    for vals, color in zip(series, colors):
        p.line(days, vals, line_color=color, line_width=7, line_join="round")


# panel A
pa = figure(width=2963, height=1010, x_range=(-10, 240), y_range=(-5, 30),
            title=None, output_backend="svg", toolbar_location=None,
            min_border_left=266, min_border_right=82, min_border_top=59,
            min_border_bottom=155, background_fill_color="white",
            border_fill_color="white")
days_a = list(range(1, len(a_m4f) + 1))
draw(pa, days_a, [a_m1, a_m2r, a_m2f, a_m3r, a_m3f, a_m4r, a_m4f])
style_axes(pa, [0, 10, 20, 30], [-5, 5, 15, 25])
pa.yaxis.axis_label = "Soil temperature (°C)"
pa.yaxis.axis_label_standoff = 14
pa.add_layout(Label(x=120, y=27.6, text="A", text_align="center", text_baseline="middle",
                    text_font=FONT, text_font_size="84px", text_color="black"))

items = []
for name, color in zip(treatments, colors):
    proxy = pa.line(x=[float("nan")], y=[float("nan")], line_color=color, line_width=16)
    items.append(LegendItem(label=name, renderers=[proxy]))
legend = Legend(items=items, location=(2405, 5), padding=0, margin=0, spacing=4,
                glyph_width=103, glyph_height=42, label_height=42, label_standoff=13,
                label_text_font=FONT, label_text_font_size="44px",
                label_text_color="black",
                border_line_color=None, background_fill_alpha=0)
pa.add_layout(legend)

# panel B (its transparent canvas overlaps the bottom strip of panel A)
pb = figure(width=2963, height=1092, x_range=(-10, 240), y_range=(-10, 32.6),
            title=None, output_backend="svg", toolbar_location=None,
            min_border_left=266, min_border_right=82, min_border_top=3,
            min_border_bottom=290, background_fill_alpha=0,
            border_fill_alpha=0)
pb.margin = (-48, 0, 0, 0)
days_b = list(range(1, len(b_m4f) + 1))
draw(pb, days_b, [b_m1, b_m2r, b_m2f, b_m3r, b_m3f, b_m4r, b_m4f])
style_axes(pb, [-10, 0, 10, 20, 30], [-5, 5, 15, 25])
pb.xaxis.major_label_standoff = 41
pb.yaxis.major_label_overrides = {-10: "\u221210"}
pb.yaxis.axis_label = "Soil temperature (°C)"
pb.yaxis.axis_label_standoff = -29
pb.xaxis.axis_label = "Days after sowing (d)"
pb.xaxis.axis_label_standoff = 64
pb.add_layout(Label(x=120.5, y=29.6, text="B", text_align="center", text_baseline="middle",
                    text_font=FONT, text_font_size="84px", text_color="black"))

layout = column(pa, pb, spacing=0)
open("out.html", "w").write(file_html(layout, INLINE))
